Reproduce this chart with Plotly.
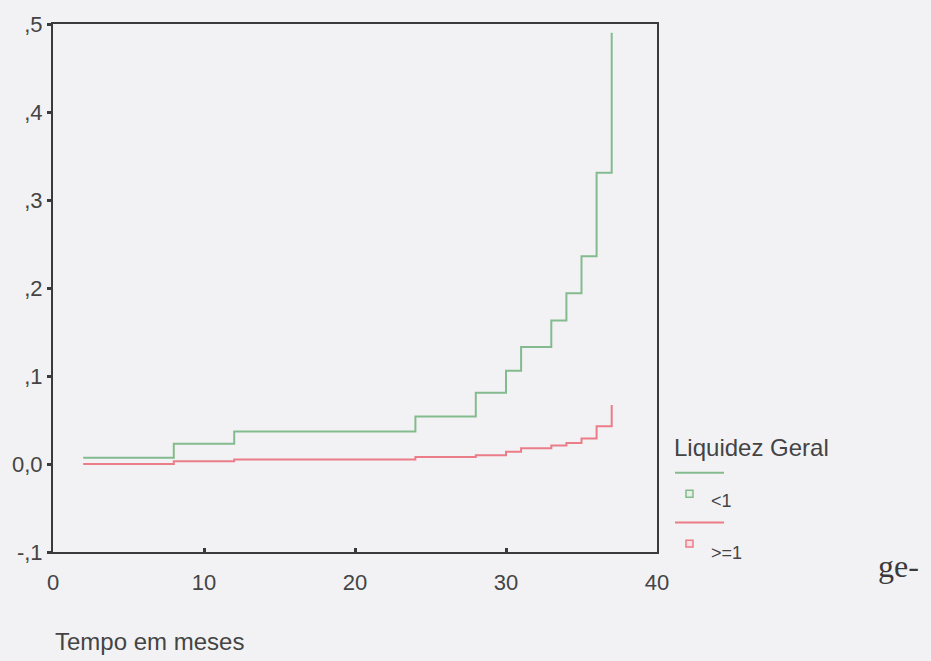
import plotly.graph_objects as go

# Data
months = [2, 8, 12, 24, 28, 30, 31, 33, 34, 35, 36, 37]
green_lt1 = [0.007, 0.023, 0.037, 0.054, 0.081, 0.106, 0.133, 0.163, 0.194, 0.236, 0.331, 0.49]
red_ge1 = [0.0, 0.003, 0.005, 0.008, 0.010, 0.014, 0.018, 0.021, 0.024, 0.029, 0.043, 0.067]

y_tickvals = [-0.1, 0.0, 0.1, 0.2, 0.3, 0.4, 0.5]
y_ticktext = ["-,1", "0,0", ",1", ",2", ",3", ",4", ",5"]
x_tickvals = [0, 10, 20, 30, 40]
x_ticktext = ["0", "10", "20", "30", "40"]

GREEN = "#84bb8e"
RED = "#ea7d88"
AXIS = "#3a3a3a"
TXT = "#444444"
BG = "#f2f2f4"
FONT = "Liberation Sans, Arial, sans-serif"

fig = go.Figure()
fig.add_trace(go.Scatter(x=months, y=green_lt1, mode="lines", line=dict(color=GREEN, width=2, shape="hv"),
                         name="<1", showlegend=False))
fig.add_trace(go.Scatter(x=months, y=red_ge1, mode="lines", line=dict(color=RED, width=2, shape="hv"),
                         name=">=1", showlegend=False))

W, H = 931, 661
L, R, T, B = 53, 274, 13, 109
pw, ph = W - L - R, H - T - B


def px(x):
    return (x - L) / pw


def py(y):
    return (H - B - y) / ph


fig.update_layout(
    width=W, height=H,
    margin=dict(l=L, r=R, t=T, b=B, pad=0),
    paper_bgcolor=BG, plot_bgcolor=BG,
    font=dict(family=FONT, color=TXT, size=22),
    showlegend=False,
    xaxis=dict(range=[0, 40], tickvals=x_tickvals, ticktext=x_ticktext, showgrid=False, zeroline=False,
               showline=True, mirror=True, linecolor=AXIS, linewidth=2,
               ticks="inside", ticklen=4, tickwidth=3, tickcolor=AXIS,
               tickfont=dict(size=22, color=TXT), ticklabelstandoff=10),
    yaxis=dict(range=[-0.1, 0.5], tickvals=y_tickvals, ticktext=y_ticktext, showgrid=False, zeroline=False,
               showline=True, mirror=True, linecolor=AXIS, linewidth=2,
               ticks="outside", ticklen=4, tickwidth=3, tickcolor=AXIS,
               tickfont=dict(size=22, color=TXT)),
)

annotations = [
    dict(text="Tempo em meses", x=px(53), y=py(643), xanchor="left", yanchor="middle",
         font=dict(size=24, color=TXT)),
    dict(text="Liquidez Geral", x=px(672), y=py(445), xanchor="left", yanchor="middle",
         font=dict(size=24, color=TXT)),
    dict(text="<1", x=px(709), y=py(500), xanchor="left", yanchor="middle",
         font=dict(size=18, color=TXT)),
    dict(text=">=1", x=px(709), y=py(553), xanchor="left", yanchor="middle",
         font=dict(size=18, color=TXT)),
    dict(text="ge-", x=px(876), y=py(566), xanchor="left", yanchor="middle",
         font=dict(size=32, color="#3a3a3a", family="Liberation Serif, Times New Roman, serif")),
]
for a in annotations:
    a.update(xref="paper", yref="paper", showarrow=False)
fig.update_layout(annotations=annotations)

shapes = [
    dict(type="line", x0=px(675), x1=px(724), y0=py(471), y1=py(471), line=dict(color=GREEN, width=2)),
    dict(type="rect", x0=px(686), x1=px(693), y0=py(489), y1=py(496), line=dict(color=GREEN, width=1.5),
         fillcolor="#e4f0e4"),
    dict(type="line", x0=px(675), x1=px(724), y0=py(522), y1=py(522), line=dict(color=RED, width=2)),
    dict(type="rect", x0=px(686), x1=px(693), y0=py(540), y1=py(547), line=dict(color=RED, width=1.5),
         fillcolor="#f6e0e3"),
]
for s in shapes:
    s.update(xref="paper", yref="paper")
fig.update_layout(shapes=shapes)

fig.write_html("out.html")
